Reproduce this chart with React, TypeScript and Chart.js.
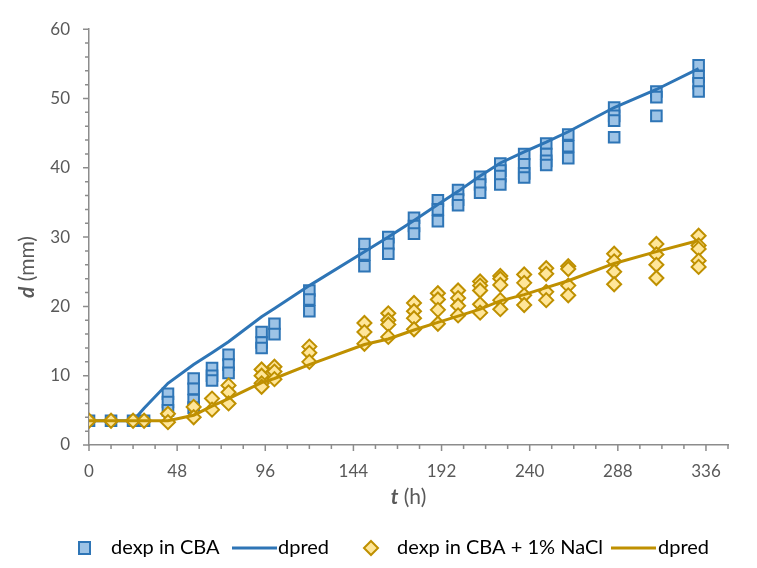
import React, { useEffect, useRef } from "react";
import { Chart, registerables } from "chart.js";

Chart.register(...registerables);

const FONT = "Lato, 'Open Sans', sans-serif";
const BLUE = "#2E75B6";
const BLUE_FILL = "#9DC3E6";
const GOLD = "#BF9000";
const GOLD_FILL = "#FFE699";
const AXIS = "#8C8C8C";
const LABEL = "#595959";

// sampling times (h)
const tExp = [0, 12, 24, 30, 43, 57, 67, 76, 94, 101, 120, 150, 163, 177, 190, 201, 213, 224, 237, 249, 261, 286, 309, 332];

// measured diameters (mm) at each time, CBA
const dExpCBA = [
  [3.5], [3.5], [3.5], [3.5],
  [7.4, 6.2, 5.0],
  [9.6, 8.1, 6.5, 5.4],
  [11.1, 10.0, 9.3],
  [13.0, 11.6, 10.4],
  [16.3, 14.8, 14.0],
  [17.5, 16.0],
  [22.3, 21.0, 19.3],
  [29.0, 27.5, 25.8],
  [30.0, 29.0, 27.6],
  [32.8, 31.6, 30.5],
  [35.3, 34.0, 32.3],
  [36.8, 35.4, 34.6],
  [38.7, 37.6, 36.4],
  [40.6, 39.6, 38.8, 37.6],
  [42.0, 40.5, 39.2, 38.6],
  [43.5, 42.0, 41.0, 40.4],
  [44.8, 43.1, 41.4],
  [48.7, 47.5, 46.8, 44.4],
  [51.0, 50.2, 47.5],
  [54.8, 53.2, 52.2, 51.0],
];

// measured diameters (mm) at each time, CBA + 1% NaCl
const dExpNaCl = [
  [3.5], [3.5], [3.5], [3.5],
  [4.5, 3.3],
  [5.5, 4.0],
  [6.7, 5.1],
  [8.6, 7.6, 6.0],
  [10.9, 10.0, 8.9, 8.4],
  [11.3, 10.6, 9.5],
  [14.2, 13.3, 12.0],
  [17.6, 16.3, 14.6],
  [19.0, 18.0, 17.4, 15.6],
  [20.5, 19.3, 18.3, 16.7],
  [21.9, 21.0, 19.5, 17.5],
  [22.3, 21.2, 20.1, 18.7],
  [23.6, 23.0, 22.3, 20.3, 19.1],
  [24.4, 24.0, 23.1, 20.9, 19.6],
  [24.6, 23.4, 21.6, 20.2],
  [25.5, 24.7, 22.1, 20.9],
  [25.8, 25.4, 23.0, 21.6],
  [27.6, 26.5, 25.0, 23.2],
  [29.0, 27.5, 26.0, 24.1],
  [30.2, 28.8, 28.3, 26.6, 25.7],
];

// model predictions (mm)
const dPredCBA = [3.5, 3.5, 3.5, 5.3, 8.9, 11.6, 13.3, 14.9, 18.5, 19.7, 23.0, 27.9, 30.0, 32.4, 34.7, 36.6, 38.8, 40.7, 42.3, 43.7, 45.2, 48.7, 51.3, 54.3];
const dPredNaCl = [3.5, 3.5, 3.5, 3.5, 3.5, 4.3, 5.6, 6.7, 9.0, 9.6, 11.6, 14.5, 15.3, 16.6, 17.7, 18.6, 19.6, 20.8, 21.7, 22.7, 23.7, 26.2, 27.9, 29.5];

// axis ticks
const xTicks = [0, 48, 96, 144, 192, 240, 288, 336];
const yTicks = [0, 10, 20, 30, 40, 50, 60];
const X_MAX = 348;
const X_MINOR = 12;
const Y_MINOR = 2;

// legend entries: marker kind, text and where each entry begins
const legendItems = [
  { kind: "square", text: "dexp in CBA", at: 78, textAt: 111 },
  { kind: "line", color: BLUE, text: "dpred", at: 232, textAt: 278 },
  { kind: "diamond", text: "dexp in CBA + 1% NaCl", at: 364, textAt: 397 },
  { kind: "line", color: GOLD, text: "dpred", at: 611, textAt: 658 },
];

const scatterPoints = (vals: number[][]) =>
  tExp.flatMap((t, i) => vals[i].map((v) => ({ x: t, y: v })));
const linePoints = (vals: number[]) => tExp.map((t, i) => ({ x: t, y: vals[i] }));

const decor = {
  id: "decor",
  afterDraw(chart: any) {
    const { ctx, chartArea, scales } = chart;
    const x = scales.x;
    const y = scales.y;
    ctx.save();
    // tick marks, major and minor
    ctx.strokeStyle = AXIS;
    ctx.lineWidth = 1.5;
    ctx.beginPath();
    for (let v = 0; v <= 60 + 1e-9; v += Y_MINOR) {
      const py = y.getPixelForValue(v);
      const len = v % 10 === 0 ? 6 : 4;
      ctx.moveTo(chartArea.left - len, py);
      ctx.lineTo(chartArea.left, py);
    }
    for (let v = 0; v <= X_MAX + 1e-9; v += X_MINOR) {
      const px = x.getPixelForValue(v);
      const len = v % 48 === 0 ? 6 : 4;
      ctx.moveTo(px, chartArea.bottom);
      ctx.lineTo(px, chartArea.bottom + len);
    }
    ctx.stroke();

    // axis titles: bold italic symbol + regular unit
    const size = 21;
    const drawTitle = (sym: string, unit: string) => {
      ctx.font = `italic bold ${size}px ${FONT}`;
      const w1 = ctx.measureText(sym).width;
      ctx.font = `${size}px ${FONT}`;
      const w2 = ctx.measureText(unit).width;
      const start = -(w1 + w2) / 2;
      ctx.fillStyle = LABEL;
      ctx.textBaseline = "middle";
      ctx.textAlign = "left";
      ctx.font = `italic bold ${size}px ${FONT}`;
      ctx.fillText(sym, start, 0);
      ctx.font = `${size}px ${FONT}`;
      ctx.fillText(unit, start + w1, 0);
    };
    ctx.save();
    ctx.translate((chartArea.left + chartArea.right) / 2, 497);
    drawTitle("t", " (h)");
    ctx.restore();
    ctx.save();
    ctx.translate(27, 267);
    ctx.rotate(-Math.PI / 2);
    drawTitle("d", " (mm)");
    ctx.restore();

    // legend
    const ly = 548;
    ctx.font = `20px ${FONT}`;
    ctx.textBaseline = "middle";
    ctx.textAlign = "left";
    legendItems.forEach((it: any) => {
      const cx = it.at;
      if (it.kind === "square") {
        ctx.fillStyle = BLUE_FILL;
        ctx.strokeStyle = BLUE;
        ctx.lineWidth = 2;
        ctx.fillRect(cx + 1, ly - 6, 11, 12);
        ctx.strokeRect(cx + 1, ly - 6, 11, 12);
      } else if (it.kind === "diamond") {
        ctx.fillStyle = GOLD_FILL;
        ctx.strokeStyle = GOLD;
        ctx.lineWidth = 2;
        const mx = cx + 7;
        ctx.beginPath();
        ctx.moveTo(mx, ly - 7);
        ctx.lineTo(mx + 7, ly);
        ctx.lineTo(mx, ly + 7);
        ctx.lineTo(mx - 7, ly);
        ctx.closePath();
        ctx.fill();
        ctx.stroke();
      } else {
        ctx.strokeStyle = it.color;
        ctx.lineWidth = 3;
        ctx.beginPath();
        ctx.moveTo(cx, ly);
        ctx.lineTo(cx + 45, ly);
        ctx.stroke();
      }
      ctx.fillStyle = "#000000";
      ctx.fillText(it.text, it.textAt, ly);
    });
    ctx.restore();
  },
};

export default function App() {
  const ref = useRef<HTMLCanvasElement | null>(null);

  useEffect(() => {
    if (!ref.current) return;
    Chart.defaults.font.family = FONT;
    const chart = new Chart(ref.current, {
      type: "scatter",
      data: {
        datasets: [
          {
            label: "dpred",
            data: linePoints(dPredNaCl),
            showLine: true,
            borderColor: GOLD,
            borderWidth: 3,
            pointRadius: 0,
            order: 0,
          },
          {
            label: "dexp in CBA + 1% NaCl",
            data: scatterPoints(dExpNaCl),
            pointStyle: "rectRot",
            pointRadius: 7,
            backgroundColor: GOLD_FILL,
            borderColor: GOLD,
            borderWidth: 2,
            order: 1,
          },
          {
            label: "dpred",
            data: linePoints(dPredCBA),
            showLine: true,
            borderColor: BLUE,
            borderWidth: 3,
            pointRadius: 0,
            order: 2,
          },
          {
            label: "dexp in CBA",
            data: scatterPoints(dExpCBA),
            pointStyle: "rect",
            pointRadius: 7.5,
            backgroundColor: BLUE_FILL,
            borderColor: BLUE,
            borderWidth: 2,
            order: 3,
          },
        ],
      },
      options: {
        responsive: false,
        animation: false,
        events: [],
        layout: { padding: { left: 0, right: 29, top: 22, bottom: 0 } },
        plugins: { legend: { display: false }, tooltip: { enabled: false } },
        scales: {
          x: {
            type: "linear",
            min: 0,
            max: X_MAX,
            grid: { display: false, drawTicks: false },
            border: { display: true, color: AXIS, width: 1.5 },
            ticks: { color: LABEL, font: { size: 17, family: FONT }, padding: 16, maxRotation: 0 },
            afterBuildTicks: (s: any) => {
              s.ticks = xTicks.map((v) => ({ value: v }));
            },
            afterFit: (s: any) => {
              s.height = 123;
            },
          },
          y: {
            type: "linear",
            min: 0,
            max: 60,
            grid: { display: false, drawTicks: false },
            border: { display: true, color: AXIS, width: 1.5 },
            ticks: { color: LABEL, font: { size: 17, family: FONT }, padding: 19 },
            afterBuildTicks: (s: any) => {
              s.ticks = yTicks.map((v) => ({ value: v }));
            },
            afterFit: (s: any) => {
              s.width = 89;
            },
          },
        },
      },
      plugins: [decor],
    });
    return () => chart.destroy();
  }, []);

  return (
    <div style={{ position: "absolute", left: 0, top: 0, width: 757, height: 568, background: "#fff" }}>
      <canvas ref={ref} width={757} height={568} />
    </div>
  );
}
